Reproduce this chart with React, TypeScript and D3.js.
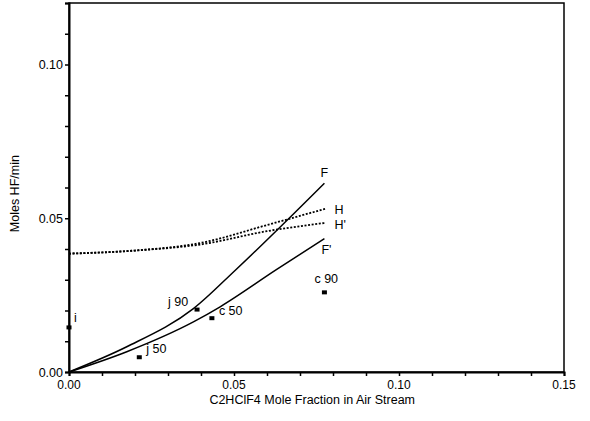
import React, { useEffect, useRef } from 'react'
import * as d3 from 'd3'

// values
const xTicks = [0, 0.05, 0.1, 0.15]
const yTicks = [0, 0.05, 0.1]

const lineF = [[0, 0], [0.0175, 0.0082], [0.0377, 0.0206], [0.0504, 0.0331], [0.0774, 0.0614]]
const lineF2 = [[0, 0], [0.0175, 0.0066], [0.0377, 0.0163], [0.0458, 0.0212], [0.0626, 0.0331], [0.0774, 0.0434]]
const lineH = [[0, 0.0385], [0.02, 0.0395], [0.04, 0.042], [0.06, 0.0478], [0.0777, 0.0531]]
const lineH2 = [[0, 0.0385], [0.02, 0.0395], [0.04, 0.0415], [0.06, 0.0458], [0.0777, 0.0485]]

const curveNames = ['F', "F'", 'H', "H'"]

const pointNames = ['i', 'j 50', 'j 90', 'c 50', 'c 90']
const pointX = [0, 0.0213, 0.0388, 0.0433, 0.0774]
const pointY = [0.0145, 0.0048, 0.0203, 0.0175, 0.0259]

export default function App() {
  const ref = useRef<SVGSVGElement>(null)

  useEffect(() => {
    const W = 590, H = 421
    const margin = { top: 3, right: 26, bottom: 49, left: 69 }
    const width = W - margin.left - margin.right
    const height = H - margin.top - margin.bottom
    const font = 'Liberation Sans, Arial, sans-serif'

    const root = d3.select(ref.current)
    root.selectAll('*').remove()
    const svg = root.append('g').attr('transform', `translate(${margin.left},${margin.top})`)

    const x = d3.scaleLinear().domain([0, 0.15]).range([0, width])
    const y = d3.scaleLinear().domain([0, 0.12]).range([height, 0])

    // frame
    svg.append('rect')
      .attr('width', width).attr('height', height)
      .attr('fill', 'none').attr('stroke', '#000').attr('stroke-width', 1.5)

    // x axis
    const xa = svg.append('g').attr('transform', `translate(0,${height})`)
      .call(d3.axisBottom(x).tickValues(d3.range(0, 0.1501, 0.01)).tickSize(4).tickFormat(() => ''))
    xa.select('.domain').attr('stroke-width', 2)
    xa.selectAll('line').attr('stroke-width', 1.5)
    svg.append('g').selectAll('text').data(xTicks).join('text')
      .attr('x', d => x(d)).attr('y', height + 17)
      .attr('text-anchor', 'middle')
      .attr('font-family', font).attr('font-size', 12)
      .text(d => d.toFixed(2))

    // y axis
    const ya = svg.append('g')
      .call(d3.axisLeft(y).tickValues(d3.range(0, 0.1201, 0.01)).tickSize(4).tickFormat(() => ''))
    ya.select('.domain').attr('stroke-width', 2)
    ya.selectAll('line').attr('stroke-width', 1.5)
    svg.append('g').selectAll('text').data(yTicks).join('text')
      .attr('x', -6).attr('y', d => y(d) + 4.5)
      .attr('text-anchor', 'end')
      .attr('font-family', font).attr('font-size', 12.5)
      .text(d => d.toFixed(2))

    // axis titles
    svg.append('text')
      .attr('x', x(0.0737)).attr('y', height + 32)
      .attr('text-anchor', 'middle')
      .attr('font-family', font).attr('font-size', 12.5)
      .text('C2HClF4 Mole Fraction in Air Stream')
    svg.append('text')
      .attr('transform', `translate(${-50},${y(0.058)}) rotate(-90)`)
      .attr('text-anchor', 'middle')
      .attr('font-family', font).attr('font-size', 12.5)
      .text('Moles HF/min')

    const line = d3.line<number[]>().x(d => x(d[0])).y(d => y(d[1])).curve(d3.curveMonotoneX)
    const curves = [lineF, lineF2, lineH, lineH2]
    const dashed = [false, false, true, true]
    svg.append('g').selectAll('path').data(curves).join('path')
      .attr('d', d => line(d))
      .attr('fill', 'none')
      .attr('stroke', '#000')
      .attr('stroke-width', (d, i) => dashed[i] ? 1.8 : 1.5)
      .attr('stroke-dasharray', (d, i) => dashed[i] ? '2,1.6' : null)

    // curve end labels
    const labelOff = [[-4, -6], [-3, 15], [9, 5], [9, 6]]
    svg.append('g').selectAll('text').data(curves).join('text')
      .attr('x', (d, i) => x(d[d.length - 1][0]) + labelOff[i][0])
      .attr('y', (d, i) => y(d[d.length - 1][1]) + labelOff[i][1])
      .attr('font-family', font).attr('font-size', 12.5)
      .text((d, i) => curveNames[i])

    // data points
    svg.append('g').selectAll('rect').data(pointX).join('rect')
      .attr('x', d => x(d) - 2.5)
      .attr('y', (d, i) => y(pointY[i]) - 2)
      .attr('width', 5).attr('height', 4)
      .attr('fill', '#000')
    const ptOff = [[5, -5], [7, -4], [-29, -4], [7, -3], [-10, -9]]
    svg.append('g').selectAll('text').data(pointX).join('text')
      .attr('x', (d, i) => x(d) + ptOff[i][0])
      .attr('y', (d, i) => y(pointY[i]) + ptOff[i][1])
      .attr('font-family', font).attr('font-size', 12.5)
      .text((d, i) => pointNames[i])
  }, [])

  return (
    <svg ref={ref} width={590} height={421}
      style={{ position: 'absolute', left: 0, top: 0, background: '#fff' }} />
  )
}
